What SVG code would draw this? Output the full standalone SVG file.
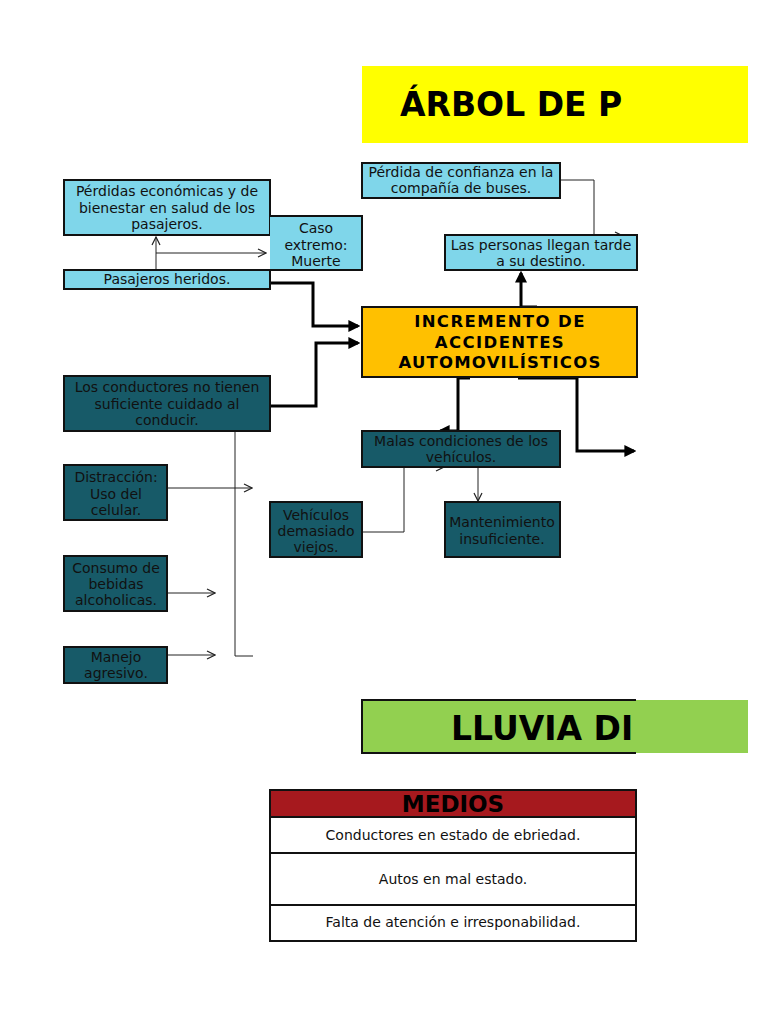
<svg xmlns="http://www.w3.org/2000/svg" width="768" height="1024" viewBox="0 0 768 1024">
<style>
text{font-family:"DejaVu Sans",Verdana,sans-serif;}
.t{font-size:14px;fill:#111;text-anchor:middle;}
.cy{fill:#7fd6ea;stroke:#111;stroke-width:2;}
.tl{fill:#175a68;stroke:#111;stroke-width:2;}
.thin{fill:none;stroke:#222;stroke-width:1;}
.thick{fill:none;stroke:#000;stroke-width:3;}
.ttl{font-weight:bold;fill:#000;}
</style>
<defs>
<marker id="open" viewBox="0 0 10 10" refX="9" refY="5" markerWidth="10" markerHeight="10" markerUnits="userSpaceOnUse" orient="auto">
<path d="M1,1 L9,5 L1,9" fill="none" stroke="#222" stroke-width="1.2"/>
</marker>
<marker id="fill" viewBox="0 0 10 10" refX="8" refY="5" markerWidth="4" markerHeight="4" orient="auto">
<path d="M0,0 L10,5 L0,10 z" fill="#000"/>
</marker>
</defs>

<g id="title-arbol">
<rect x="362" y="66" width="386" height="77" fill="#ffff00"/>
<text x="400" y="116" class="ttl" font-size="33">ÁRBOL DE P</text>
</g>

<g id="connectors">
<path class="thin" d="M156,270 V237" marker-end="url(#open)"/>
<path class="thin" d="M156,253 H266" marker-end="url(#open)"/>
<path class="thick" d="M270,283 H313 V326 H358" marker-end="url(#fill)"/>
<path class="thick" d="M270,406 H316 V343 H358" marker-end="url(#fill)"/>
<path class="thin" d="M560,180 H594 V236 H623" marker-end="url(#open)"/>
<path class="thick" d="M537,307 H521 V273" marker-end="url(#fill)"/>
<path class="thick" d="M470,378 H458 V431 H440" marker-end="url(#fill)"/>
<path class="thick" d="M518,378 H577 V451 H634" marker-end="url(#fill)"/>
<path class="thin" d="M362,532 H404 V467 H444" marker-end="url(#open)"/>
<path class="thin" d="M478,467 V501" marker-end="url(#open)"/>
<path class="thin" d="M235,431 V656 H253"/>
<path class="thin" d="M167,488 H252" marker-end="url(#open)"/>
<path class="thin" d="M156,593 H215" marker-end="url(#open)"/>
<path class="thin" d="M156,655 H215" marker-end="url(#open)"/>
</g>

<g id="n-perdidas">
<rect class="cy" x="64" y="180" width="206" height="55"/>
<text class="t" x="167" y="196">Pérdidas económicas y de</text>
<text class="t" x="167" y="213">bienestar en salud de los</text>
<text class="t" x="167" y="229">pasajeros.</text>
</g>
<g id="n-caso">
<rect x="270" y="216" width="92" height="54" fill="#7fd6ea"/>
<path d="M270,216 H362 V270 H270" fill="none" stroke="#111" stroke-width="2"/>
<text class="t" x="316" y="233">Caso</text>
<text class="t" x="316" y="250">extremo:</text>
<text class="t" x="316" y="266">Muerte</text>
</g>
<g id="n-heridos">
<rect class="cy" x="64" y="270" width="206" height="19"/>
<text class="t" x="167" y="284">Pasajeros heridos.</text>
</g>
<g id="n-confianza">
<rect class="cy" x="362" y="163" width="198" height="35"/>
<text class="t" x="461" y="177">Pérdida de confianza en la</text>
<text class="t" x="461" y="193">compañía de buses.</text>
</g>
<g id="n-tarde">
<rect class="cy" x="445" y="235" width="192" height="35"/>
<text class="t" x="541" y="250">Las personas llegan tarde</text>
<text class="t" x="541" y="266">a su destino.</text>
</g>
<g id="n-incremento">
<rect x="362" y="307" width="275" height="70" fill="#ffc000" stroke="#111" stroke-width="2"/>
<text x="500" y="327" class="ttl" font-size="16.5" text-anchor="middle" letter-spacing="1.4">INCREMENTO DE</text>
<text x="500" y="348" class="ttl" font-size="16.5" text-anchor="middle" letter-spacing="1.4">ACCIDENTES</text>
<text x="500" y="368" class="ttl" font-size="16.5" text-anchor="middle" letter-spacing="1.2">AUTOMOVILÍSTICOS</text>
</g>
<g id="n-conductores">
<rect class="tl" x="64" y="376" width="206" height="55"/>
<text class="t" x="167" y="392">Los conductores no tienen</text>
<text class="t" x="167" y="409">suficiente cuidado al</text>
<text class="t" x="167" y="425">conducir.</text>
</g>
<g id="n-distraccion">
<rect class="tl" x="64" y="465" width="103" height="55"/>
<text class="t" x="116" y="482">Distracción:</text>
<text class="t" x="116" y="499">Uso del</text>
<text class="t" x="116" y="515">celular.</text>
</g>
<g id="n-consumo">
<rect class="tl" x="64" y="556" width="103" height="55"/>
<text class="t" x="116" y="573">Consumo de</text>
<text class="t" x="116" y="589">bebidas</text>
<text class="t" x="116" y="605">alcoholicas.</text>
</g>
<g id="n-manejo">
<rect class="tl" x="64" y="647" width="103" height="36"/>
<text class="t" x="116" y="662">Manejo</text>
<text class="t" x="116" y="678">agresivo.</text>
</g>
<g id="n-malas">
<rect class="tl" x="362" y="431" width="198" height="36"/>
<text class="t" x="461" y="446">Malas condiciones de los</text>
<text class="t" x="461" y="462">vehículos.</text>
</g>
<g id="n-viejos">
<rect class="tl" x="270" y="502" width="92" height="55"/>
<text class="t" x="316" y="520">Vehículos</text>
<text class="t" x="316" y="536">demasiado</text>
<text class="t" x="316" y="552">viejos.</text>
</g>
<g id="n-mantenimiento">
<rect class="tl" x="445" y="502" width="115" height="55"/>
<text class="t" x="502" y="527">Mantenimiento</text>
<text class="t" x="502" y="544">insuficiente.</text>
</g>

<g id="title-lluvia">
<rect x="362" y="700" width="386" height="53" fill="#92d050"/>
<path d="M636,700 H362 V753 H636" fill="none" stroke="#111" stroke-width="2"/>
<text x="451" y="740" class="ttl" font-size="33">LLUVIA DI</text>
</g>

<g id="table-medios">
<rect x="270" y="790" width="366" height="27" fill="#a6191e" stroke="#111" stroke-width="2"/>
<text x="453" y="812" class="ttl" font-size="23" text-anchor="middle">MEDIOS</text>
<rect x="270" y="817" width="366" height="36" fill="#fff" stroke="#111" stroke-width="2"/>
<text class="t" x="453" y="840">Conductores en estado de ebriedad.</text>
<rect x="270" y="853" width="366" height="52" fill="#fff" stroke="#111" stroke-width="2"/>
<text class="t" x="453" y="884">Autos en mal estado.</text>
<rect x="270" y="905" width="366" height="36" fill="#fff" stroke="#111" stroke-width="2"/>
<text class="t" x="453" y="927">Falta de atención e irresponabilidad.</text>
</g>
</svg>
